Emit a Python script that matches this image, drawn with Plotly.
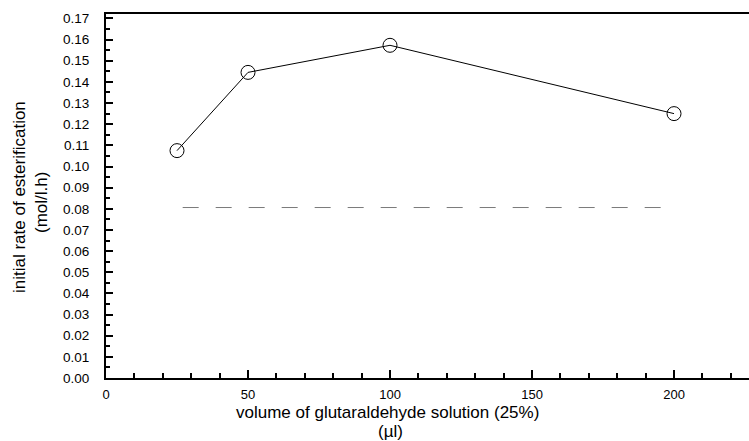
import plotly.graph_objects as go

# data
volume_ul = [25, 50, 100, 200]
rate = [0.1075, 0.1445, 0.1573, 0.1250]
ref_volume = [27, 200]
ref_rate = [0.0806, 0.0806]

x_ticks = [0, 50, 100, 150, 200]
y_ticks = [round(i * 0.01, 2) for i in range(18)]

W, H = 749, 441
ML, MR, MT, MB = 106, 0, 14, 63
pw, ph = W - ML - MR, H - MT - MB

fig = go.Figure()
fig.add_trace(go.Scatter(
    x=ref_volume, y=ref_rate, mode="lines",
    line=dict(color="#7a7a7a", width=1, dash="16px,17px"),
    showlegend=False, hoverinfo="skip"))
fig.add_trace(go.Scatter(
    x=volume_ul, y=rate, mode="lines+markers",
    line=dict(color="black", width=1),
    marker=dict(symbol="circle-open", size=14, color="black", line=dict(width=1, color="black")),
    showlegend=False))

font = "Liberation Sans, Arial, sans-serif"


def px_x(p):
    return (p - ML) / pw


def px_y(p):
    return (MT + ph - p) / ph


title_font = dict(size=17, family=font, color="black")
fig.update_layout(
    width=W, height=H,
    margin=dict(l=ML, r=MR, t=MT, b=MB, pad=0),
    paper_bgcolor="white", plot_bgcolor="white",
    font=dict(family=font, color="black", size=13),
    xaxis=dict(range=[0, 226.4], tickvals=x_ticks, ticktext=[str(v) for v in x_ticks],
               showgrid=False, zeroline=False, showline=True, linecolor="black", linewidth=2,
               mirror=True, ticks="inside", ticklen=8, tickwidth=1.5, tickcolor="black",
               minor=dict(dtick=10, ticks="inside", ticklen=5, tickwidth=1.5, tickcolor="black", showgrid=False),
               tickfont=dict(size=13), ticklabelstandoff=3),
    yaxis=dict(range=[0, 0.1721], tickvals=y_ticks, ticktext=[f"{v:.2f}" for v in y_ticks],
               showgrid=False, zeroline=False, showline=True, linecolor="black", linewidth=2,
               ticks="inside", ticklen=7, tickwidth=1.5, tickcolor="black",
               minor=dict(dtick=0.005, ticks="inside", ticklen=4, tickwidth=1.5, tickcolor="black", showgrid=False),
               tickfont=dict(size=13.5), ticklabelstandoff=12),
    annotations=[
        dict(text="initial rate of esterification", textangle=-90,
             xref="paper", yref="paper", x=px_x(19.5), y=px_y(197.5),
             xanchor="center", yanchor="middle", showarrow=False, font=title_font),
        dict(text="(mol/l.h)", textangle=-90,
             xref="paper", yref="paper", x=px_x(42), y=px_y(203),
             xanchor="center", yanchor="middle", showarrow=False, font=title_font),
        dict(text="volume of glutaraldehyde solution (25%)",
             xref="paper", yref="paper", x=px_x(387), y=px_y(412),
             xanchor="center", yanchor="middle", showarrow=False, font=title_font),
        dict(text="(µl)",
             xref="paper", yref="paper", x=px_x(390), y=px_y(432),
             xanchor="center", yanchor="middle", showarrow=False, font=title_font),
    ],
)

fig.write_html("out.html")
